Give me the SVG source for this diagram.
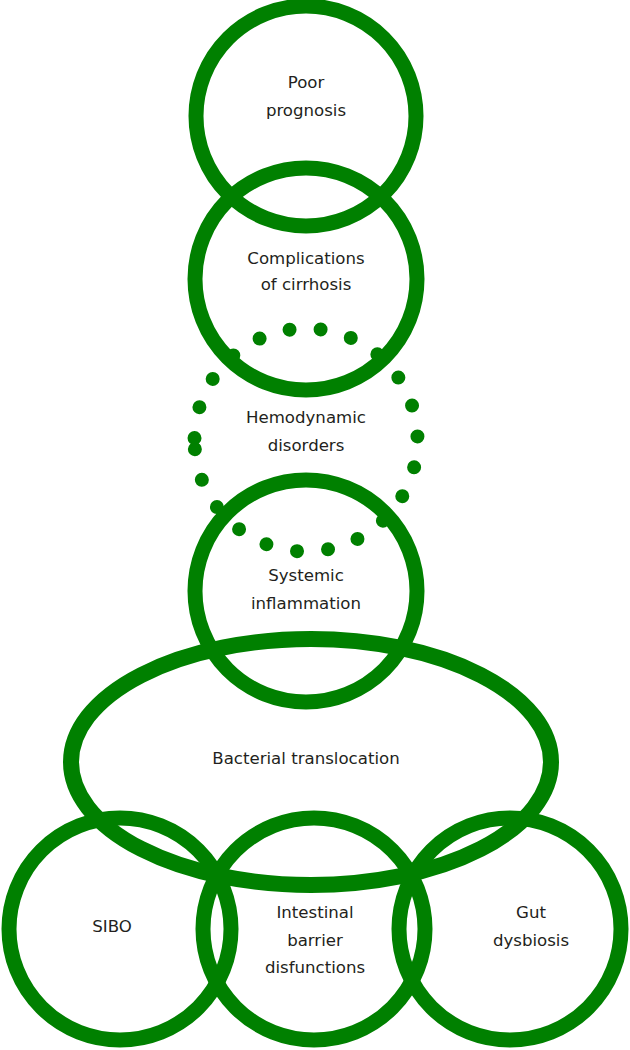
<svg xmlns="http://www.w3.org/2000/svg" width="630" height="1050" viewBox="0 0 630 1050">
<style>
.ring{fill:none;stroke:#008000;stroke-width:15}
.dots{fill:none;stroke:#008000;stroke-width:14;stroke-linecap:round;stroke-dasharray:0 31.3}
.lbl{font-family:"DejaVu Sans",Verdana,sans-serif;font-size:16.6px;fill:#231f20;text-anchor:middle}
</style>
<rect width="630" height="1050" fill="#ffffff"/>
<g id="poor-prognosis">
<circle class="ring" cx="306" cy="116" r="110"/>
<text class="lbl" x="306" y="88">Poor</text>
<text class="lbl" x="306" y="116">prognosis</text>
</g>
<g id="complications">
<circle class="ring" cx="306" cy="279" r="111"/>
<text class="lbl" x="306" y="264">Complications</text>
<text class="lbl" x="306" y="290">of cirrhosis</text>
</g>
<g id="hemodynamic">
<circle class="dots" cx="306" cy="440" r="111.5" transform="rotate(181 306 440)"/>
<text class="lbl" x="306" y="423">Hemodynamic</text>
<text class="lbl" x="306" y="451">disorders</text>
</g>
<g id="systemic-inflammation">
<circle class="ring" cx="306" cy="591" r="111"/>
<text class="lbl" x="306" y="581">Systemic</text>
<text class="lbl" x="306" y="609">inflammation</text>
</g>
<g id="bacterial-translocation">
<ellipse class="ring" cx="311" cy="762" rx="240" ry="123" style="stroke-width:16"/>
<text class="lbl" x="306" y="764">Bacterial translocation</text>
</g>
<g id="sibo">
<circle class="ring" cx="120" cy="929" r="111"/>
<text class="lbl" x="112" y="932">SIBO</text>
</g>
<g id="intestinal-barrier">
<circle class="ring" cx="314" cy="929" r="111"/>
<text class="lbl" x="315" y="918">Intestinal</text>
<text class="lbl" x="315" y="946">barrier</text>
<text class="lbl" x="315" y="973">disfunctions</text>
</g>
<g id="gut-dysbiosis">
<circle class="ring" cx="510" cy="929" r="111"/>
<text class="lbl" x="531" y="918">Gut</text>
<text class="lbl" x="531" y="946">dysbiosis</text>
</g>
<g id="connectors"/>
</svg>
